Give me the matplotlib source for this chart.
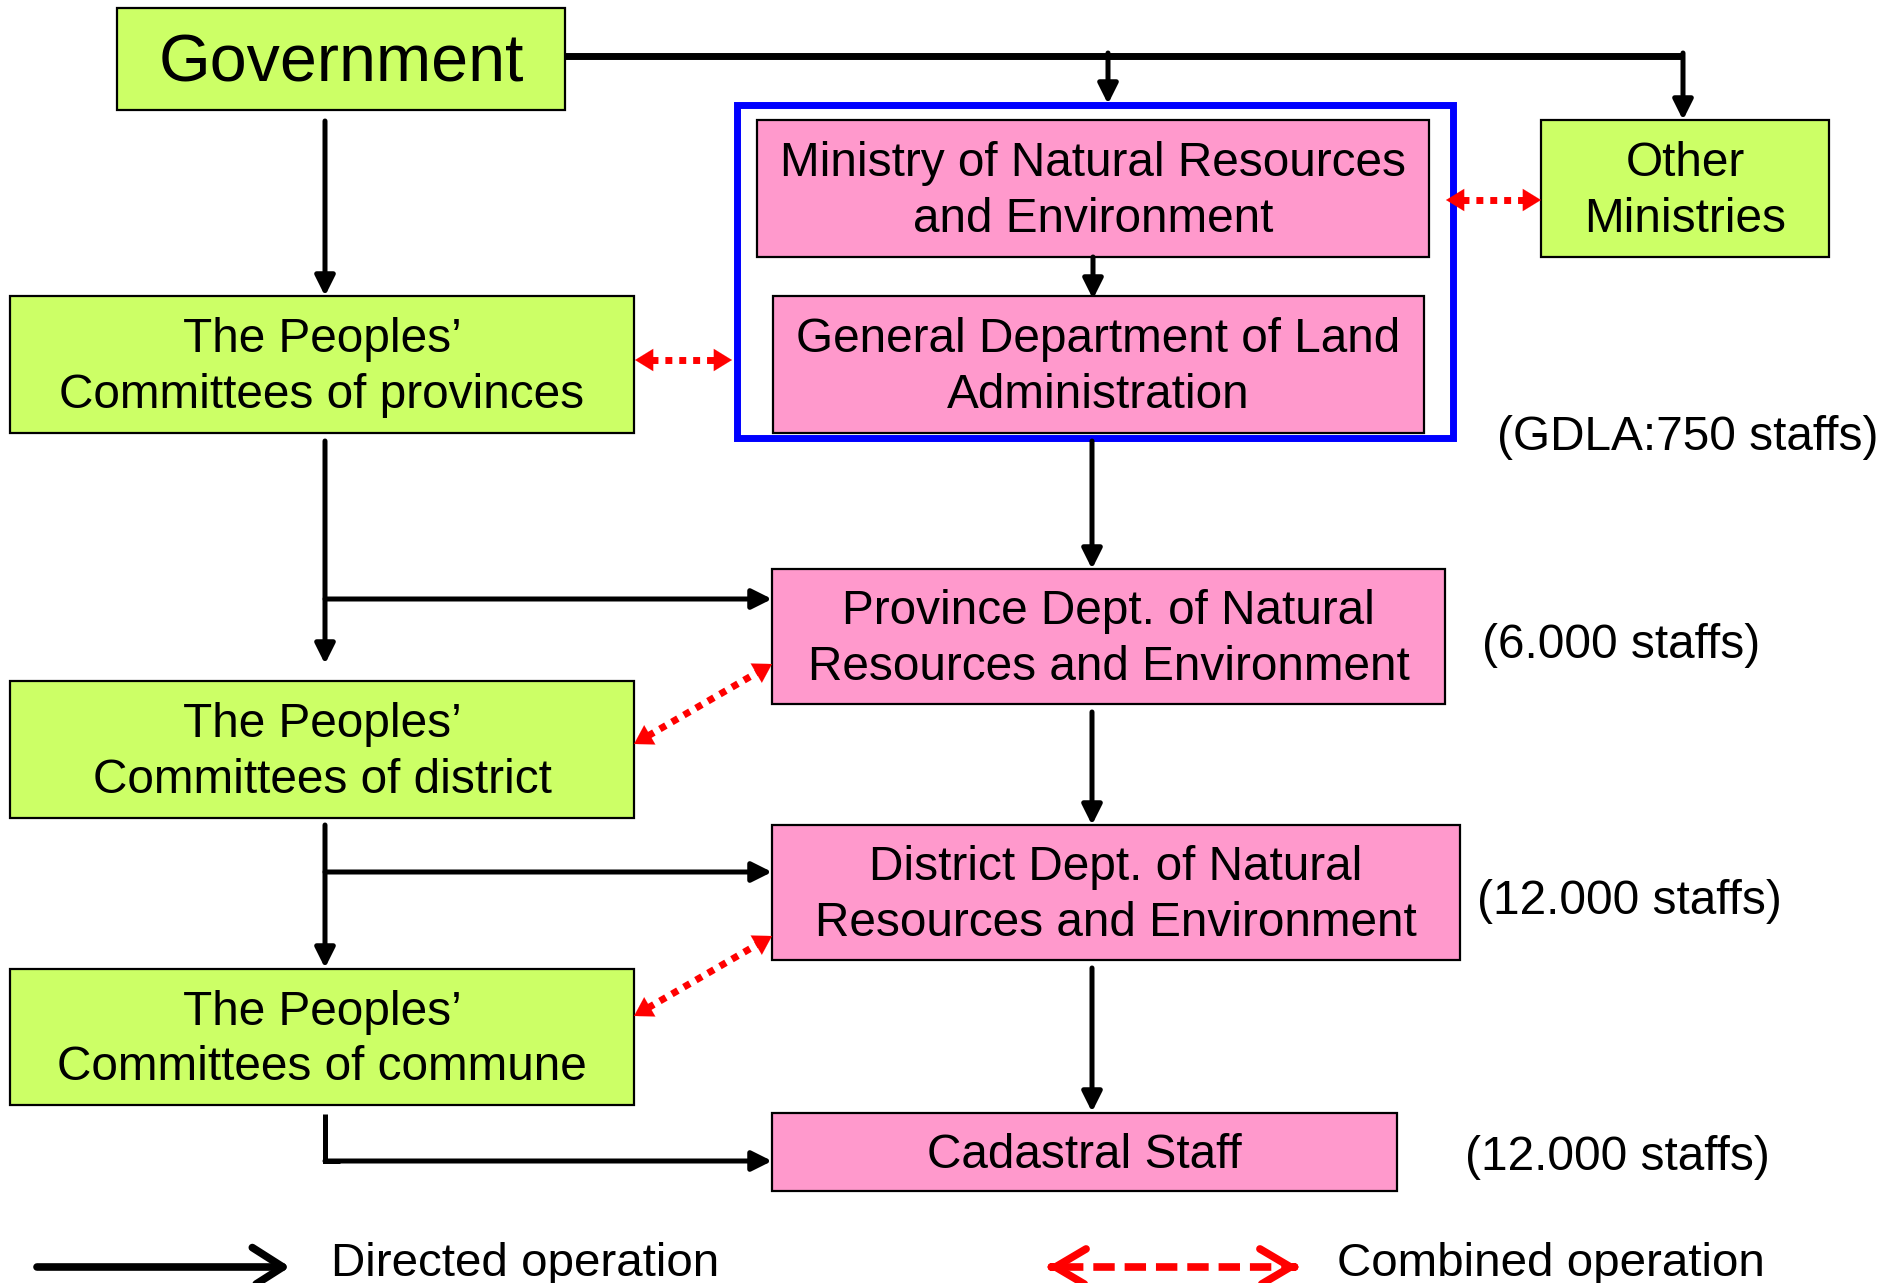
"""
Land administration organisation chart (Vietnam)
"""

# ----------------------------------------------------------------------------------------------------------------------
# libraries
import matplotlib
matplotlib.use('Agg')
import matplotlib.pyplot as plt
from matplotlib.patches import Rectangle, FancyArrowPatch, ArrowStyle
# ----------------------------------------------------------------------------------------------------------------------

# ----------------------------------------------------------------------------------------------------------------------
# data
label_government = 'Government'
label_other = 'Other\nMinistries'
labels_ministry = ['Ministry of Natural Resources\nand Environment',
                   'General Department of Land\nAdministration']
labels_committees = ['The Peoples\u2019\nCommittees of provinces',
                     'The Peoples\u2019\nCommittees of district',
                     'The Peoples\u2019\nCommittees of commune']
labels_departments = ['Province Dept. of Natural\nResources and Environment',
                      'District Dept. of Natural\nResources and Environment',
                      'Cadastral Staff']
labels_staffs = ['(GDLA:750 staffs)', '(6.000 staffs)', '(12.000 staffs)', '(12.000 staffs)']
labels_legend = ['Directed operation', 'Combined operation']
# ----------------------------------------------------------------------------------------------------------------------

# ----------------------------------------------------------------------------------------------------------------------
# settings
plt.rcParams['font.family'] = ['Liberation Sans', 'DejaVu Sans']
color_green, color_pink, color_blue, color_red = '#CCFF66', '#FF99CC', '#0000FF', '#FF0000'
font_box, font_gov, font_legend = 34.4, 47.8, 34.2

# box layout (x0, y0, x1, y1) in pixel units
box_government = (117, 8, 565, 110)
box_other = (1541, 120, 1829, 257)
box_ministry = [(757, 120, 1429, 257), (773, 296, 1424, 433)]
box_committees = [(10, 296, 634, 433), (10, 681, 634, 818), (10, 969, 634, 1105)]
box_departments = [(772, 569, 1445, 704), (772, 825, 1460, 960), (772, 1113, 1397, 1191)]
pos_staffs = [(1497, 437), (1482, 646), (1477, 902), (1465, 1157)]

fig = plt.figure(figsize=(18.86, 12.83), dpi=100)
ax = fig.add_axes([0, 0, 1, 1])
ax.set_xlim(0, 1886)
ax.set_ylim(1283, 0)
ax.axis('off')
# ----------------------------------------------------------------------------------------------------------------------


# ----------------------------------------------------------------------------------------------------------------------
# method to draw a labelled box
def draw_box(box, label, face, size=font_box, dy=3):
    x0, y0, x1, y1 = box
    ax.add_patch(Rectangle((x0, y0), x1 - x0, y1 - y0, facecolor=face, edgecolor='black', lw=1.6, zorder=2))
    ax.text((x0 + x1) / 2, (y0 + y1) / 2 + dy, label, ha='center', va='center', fontsize=size,
            linespacing=1.31, color='black', zorder=3)


# method to draw a directed (black) arrow
def draw_arrow(p0, p1, lw=3.6):
    arrow = FancyArrowPatch(p0, p1, arrowstyle=ArrowStyle('-|>', head_length=12, head_width=6),
                            mutation_scale=1, lw=lw, color='black', shrinkA=0, shrinkB=0, zorder=4)
    ax.add_patch(arrow)


# method to draw a combined (red dotted) link
def draw_link(p0, p1, head=18):
    dx, dy = p1[0] - p0[0], p1[1] - p0[1]
    dist = (dx ** 2 + dy ** 2) ** 0.5
    ux, uy = dx / dist, dy / dist
    a0 = (p0[0] + ux * (head - 2), p0[1] + uy * (head - 2))
    a1 = (p1[0] - ux * (head - 2), p1[1] - uy * (head - 2))
    ax.plot([a0[0], a1[0]], [a0[1], a1[1]], color=color_red, lw=5, dashes=(1, 1),
            dash_capstyle='butt', zorder=4)
    for tip, base in ((p0, (p0[0] + ux * (head + 1), p0[1] + uy * (head + 1))),
                      (p1, (p1[0] - ux * (head + 1), p1[1] - uy * (head + 1)))):
        ax.add_patch(FancyArrowPatch(base, tip, arrowstyle=ArrowStyle('-|>', head_length=13, head_width=8),
                                     mutation_scale=1, lw=0.1, color=color_red,
                                     shrinkA=0, shrinkB=0, zorder=5))
# ----------------------------------------------------------------------------------------------------------------------


# ----------------------------------------------------------------------------------------------------------------------
# boxes
draw_box(box_government, label_government, color_green, size=font_gov, dy=6)
draw_box(box_other, label_other, color_green)
for box, label in zip(box_ministry, labels_ministry):
    draw_box(box, label, color_pink)
for box, label in zip(box_committees, labels_committees):
    draw_box(box, label, color_green)
for box, label in zip(box_departments, labels_departments):
    draw_box(box, label, color_pink)

# blue frame round the ministry
ax.add_patch(Rectangle((737, 105), 1453 - 737, 438 - 105, facecolor='none', edgecolor=color_blue,
                       lw=5, zorder=3))

# staff numbers
for (x, y), label in zip(pos_staffs, labels_staffs):
    ax.text(x, y, label, ha='left', va='center', fontsize=font_box, color='black')
# ----------------------------------------------------------------------------------------------------------------------


# ----------------------------------------------------------------------------------------------------------------------
# directed operation
ax.plot([565, 1683], [56, 56], color='black', lw=5, solid_capstyle='butt', zorder=4)
draw_arrow((1108, 53), (1108, 104))
draw_arrow((1683, 53), (1683, 120))
draw_arrow((1093, 257), (1093, 299))
draw_arrow((325, 121), (325, 296))
draw_arrow((1092, 441), (1092, 569))
draw_arrow((325, 441), (325, 664))
draw_arrow((325, 599), (772, 599))
draw_arrow((1092, 712), (1092, 825))
draw_arrow((325, 825), (325, 968))
draw_arrow((325, 872), (772, 872))
draw_arrow((1092, 968), (1092, 1112))
ax.plot([325, 325, 340], [1114, 1161, 1161], color='black', lw=3.6, solid_joinstyle='miter',
        solid_capstyle='butt', zorder=4)
draw_arrow((325, 1161), (772, 1161))

# combined operation
draw_link((635, 360), (732, 360))
draw_link((1446, 200), (1541, 200))
draw_link((634, 744), (772, 664))
draw_link((634, 1016), (772, 936))
# ----------------------------------------------------------------------------------------------------------------------


# ----------------------------------------------------------------------------------------------------------------------
# legend
ax.add_patch(FancyArrowPatch((37, 1267), (290, 1267), arrowstyle=ArrowStyle('->', head_length=22, head_width=14),
                             mutation_scale=1, lw=5.5, color='black', shrinkA=0, shrinkB=0,
                             capstyle='round', joinstyle='round'))
ax.text(331, 1276, labels_legend[0], ha='left', va='baseline', fontsize=font_legend, color='black')

ax.plot([1062, 1284], [1267, 1267], color=color_red, lw=5.5, dashes=(2.8, 1.3), dash_capstyle='butt')
for base, tip in (((1052, 1267), (1048, 1267)), ((1294, 1267), (1298, 1267))):
    ax.add_patch(FancyArrowPatch(base, tip, arrowstyle=ArrowStyle('->', head_length=22, head_width=13),
                                 mutation_scale=1, lw=5.5, color=color_red, shrinkA=0, shrinkB=0,
                                 capstyle='round', joinstyle='round'))
ax.text(1337, 1276, labels_legend[1], ha='left', va='baseline', fontsize=font_legend, color='black')
# ----------------------------------------------------------------------------------------------------------------------

fig.savefig('out.png', dpi=100)
